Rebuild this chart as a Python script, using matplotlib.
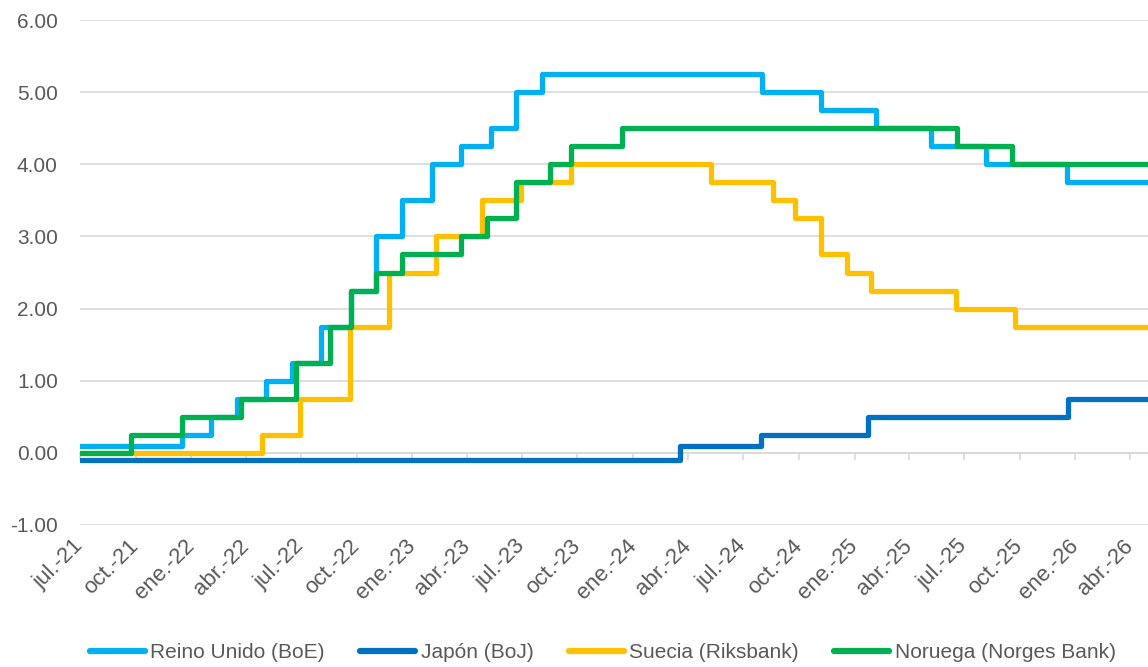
import matplotlib.pyplot as plt
import pandas as pd

# tasas de politica monetaria (fecha de cambio -> nivel)
boe_dates = ["2021-07-01", "2021-12-16", "2022-02-03", "2022-03-17", "2022-05-05",
             "2022-06-16", "2022-08-04", "2022-09-22", "2022-11-03", "2022-12-15",
             "2023-02-02", "2023-03-23", "2023-05-11", "2023-06-22", "2023-08-03",
             "2024-08-01", "2024-11-07", "2025-02-06", "2025-05-08", "2025-08-07",
             "2025-12-18", "2026-05-01"]
boe_rates = [0.10, 0.25, 0.50, 0.75, 1.00, 1.25, 1.75, 2.25, 3.00, 3.50, 4.00, 4.25,
             4.50, 5.00, 5.25, 5.00, 4.75, 4.50, 4.25, 4.00, 3.75, 3.75]

boj_dates = ["2021-07-01", "2024-03-19", "2024-07-31", "2025-01-24", "2025-12-19",
             "2026-05-01"]
boj_rates = [-0.10, 0.10, 0.25, 0.50, 0.75, 0.75]

riks_dates = ["2021-07-01", "2022-04-28", "2022-06-30", "2022-09-20", "2022-11-24",
              "2023-02-09", "2023-04-26", "2023-06-29", "2023-09-21", "2024-05-08",
              "2024-08-20", "2024-09-25", "2024-11-07", "2024-12-19", "2025-01-29",
              "2025-06-18", "2025-09-23", "2026-05-01"]
riks_rates = [0.00, 0.25, 0.75, 1.75, 2.50, 3.00, 3.50, 3.75, 4.00, 3.75, 3.50, 3.25,
              2.75, 2.50, 2.25, 2.00, 1.75, 1.75]

norges_dates = ["2021-07-01", "2021-09-23", "2021-12-16", "2022-03-24", "2022-06-23",
                "2022-08-18", "2022-09-22", "2022-11-03", "2022-12-15", "2023-03-23",
                "2023-05-04", "2023-06-22", "2023-08-17", "2023-09-21", "2023-12-14",
                "2025-06-19", "2025-09-18", "2026-05-01"]
norges_rates = [0.00, 0.25, 0.50, 0.75, 1.25, 1.75, 2.25, 2.50, 2.75, 3.00, 3.25,
                3.75, 4.00, 4.25, 4.50, 4.25, 4.00, 4.00]

series = [
    ("Reino Unido (BoE)", boe_dates, boe_rates, "#00B0F0"),
    ("Japón (BoJ)", boj_dates, boj_rates, "#0070C0"),
    ("Suecia (Riksbank)", riks_dates, riks_rates, "#FFC000"),
    ("Noruega (Norges Bank)", norges_dates, norges_rates, "#00B050"),
]

meses = ["ene.", "feb.", "mar.", "abr.", "may.", "jun.",
         "jul.", "ago.", "sep.", "oct.", "nov.", "dic."]

grey = "#595959"
grid = "#D9D9D9"
plt.rcParams["font.family"] = ["Liberation Sans", "DejaVu Sans"]

fig = plt.figure(figsize=(11.48, 6.67), dpi=100)
ax = fig.add_axes([80 / 1148, 1 - 525 / 667, 1 - 80 / 1148, (525 - 20) / 667])

for name, d, r, c in series:
    ax.step(pd.to_datetime(d), r, where="post", color=c, lw=3.8, label=name,
            solid_joinstyle="round", solid_capstyle="round")

ax.set_ylim(-1, 6)
ax.set_yticks(range(-1, 7))
ax.set_yticklabels([f"{v:.2f}" for v in range(-1, 7)])
ax.set_xlim(pd.Timestamp("2021-07-01"), pd.Timestamp("2026-05-01"))
ax.grid(axis="y", color=grid, lw=1.2)
ax.set_axisbelow(True)
for s in ax.spines.values():
    s.set_visible(False)

ticks = pd.date_range("2021-07-01", "2026-04-01", freq="QS-JAN")
ax.set_xticks(ticks)
ax.set_xticklabels([f"{meses[t.month - 1]}-{t.strftime('%y')}" for t in ticks],
                   rotation=45, ha="right", va="center", rotation_mode="anchor",
                   fontsize=16, color=grey)
ax.tick_params(axis="x", length=0, pad=13)
ax.tick_params(axis="y", length=0, pad=16, labelsize=15, labelcolor=grey)

# eje horizontal cruzando en 0 con marcas
sec = ax.secondary_xaxis(1 / 7)
sec.set_xticks(ticks)
sec.tick_params(axis="x", length=5, width=1.2, color=grid, labelbottom=False)
sec.spines["bottom"].set_color(grid)
sec.spines["bottom"].set_linewidth(1.2)

leg = fig.legend(loc="center", ncol=4, bbox_to_anchor=(0.525, 1 - 653 / 667),
                 frameon=False, handlelength=2.65, columnspacing=1.7, handletextpad=0.25,
                 prop={"size": 15})
for t in leg.get_texts():
    t.set_color(grey)
for h in leg.legend_handles:
    h.set_linewidth(4.5)

fig.savefig("out.png", dpi=100)
